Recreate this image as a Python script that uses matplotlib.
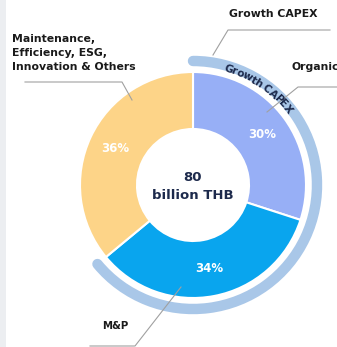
import numpy as np
import matplotlib
matplotlib.use("Agg")
import matplotlib.pyplot as plt
from matplotlib.patches import Arc
from matplotlib.textpath import TextPath
from matplotlib.font_manager import FontProperties

# capex split, clockwise from 12 o'clock
segments = ["Organic", "M&P", "Maintenance,\nEfficiency, ESG,\nInnovation & Others"]
shares = [30, 34, 36]
pct_labels = ["30%", "34%", "36%"]
colors = ["#97aff6", "#09a5ee", "#fdd488"]
growth = shares[0] + shares[1]   # outer ring = Growth CAPEX
total = 80

W, H = 337, 347
fig = plt.figure(figsize=(W / 100, H / 100), dpi=100)
ax = fig.add_axes([0, 0, 1, 1])

cx, cy = 193, 185
R, w = 113, 57
navy = "#1d2a4c"
dark = "#1a1a1a"
fnt = "DejaVu Sans"

# pie with inverted y axis -> counterclock=True draws clockwise on screen
wedges, _ = ax.pie(shares, startangle=-90, counterclock=True, radius=R, center=(cx, cy),
                   colors=colors, frame=True,
                   wedgeprops=dict(width=w, edgecolor="white", linewidth=1.5))
ax.set_xlim(0, W)
ax.set_ylim(H, 0)
ax.set_aspect("equal")
ax.axis("off")

# percentages
ang0 = 90.0
r_lab = R - w / 2 + 1
for s, lab in zip(shares, pct_labels):
    mid = ang0 - s * 3.6 / 2
    ang0 -= s * 3.6
    a = np.deg2rad(mid)
    ax.text(cx + r_lab * np.cos(a), cy - r_lab * np.sin(a), lab, color="white",
            fontsize=8.5, fontweight="bold", family=fnt, ha="center", va="center")

# outer growth ring
end = 90 - growth * 3.6
ring_r = 124
arc = Arc((cx, cy), 2 * ring_r, 2 * ring_r, theta1=-90, theta2=-end,
          color="#a9c7e8", linewidth=7.5)
arc.set_capstyle("round")
ax.add_patch(arc)

# curved ring text, letters spaced by their own widths
word = "Growth CAPEX"
fs = 7.6
fp = FontProperties(family=fnt, weight="bold", size=fs)
widths = []
for ch in word:
    tp = TextPath((0, 0), ch if ch != " " else "a", prop=fp)
    wd = tp.get_extents().width if ch != " " else fs * 0.3
    widths.append(wd * 100 / 72 + 0.5)
text_r = 121
a = 75.0
for ch, wd in zip(word, widths):
    da = np.rad2deg(wd / text_r)
    mid = a - da / 2
    t = np.deg2rad(mid)
    ax.text(cx + text_r * np.cos(t), cy - text_r * np.sin(t), ch, rotation=mid - 90,
            rotation_mode="anchor", ha="center", va="center", fontsize=fs,
            fontweight="bold", color=navy, family=fnt)
    a -= da

# centre
ax.text(cx, 177, str(total), ha="center", va="center", fontsize=9.5,
        fontweight="bold", color=navy, family=fnt)
ax.text(cx, 195, "billion THB", ha="center", va="center", fontsize=9.5,
        fontweight="bold", color=navy, family=fnt)

# callouts
lc = "#a0a0a0"
ax.plot([213, 228, 330], [55, 30, 30], color=lc, lw=0.8)
ax.text(273, 14, "Growth CAPEX", ha="center", va="center", fontsize=7.8,
        fontweight="bold", color=dark, family=fnt)

# label runs off the right edge, as in the source slide
ax.plot([267, 298, 340], [112, 87, 87], color=lc, lw=0.8)
ax.text(292, 67, segments[0], ha="left", va="center", fontsize=7.8,
        fontweight="bold", color=dark, family=fnt)

ax.plot([25, 122, 132], [82, 82, 100], color=lc, lw=0.8)
ax.text(12, 53, segments[2], ha="left", va="center", fontsize=7.8,
        fontweight="bold", color=dark, family=fnt, linespacing=1.55)

ax.plot([181, 135, 90], [287, 346, 346], color=lc, lw=0.8)
ax.text(115, 326, segments[1], ha="center", va="center", fontsize=7.3,
        fontweight="bold", color=dark, family=fnt)

ax.axvspan(0, 6, color="#eceef1", lw=0)

fig.savefig("out.png", dpi=100)
